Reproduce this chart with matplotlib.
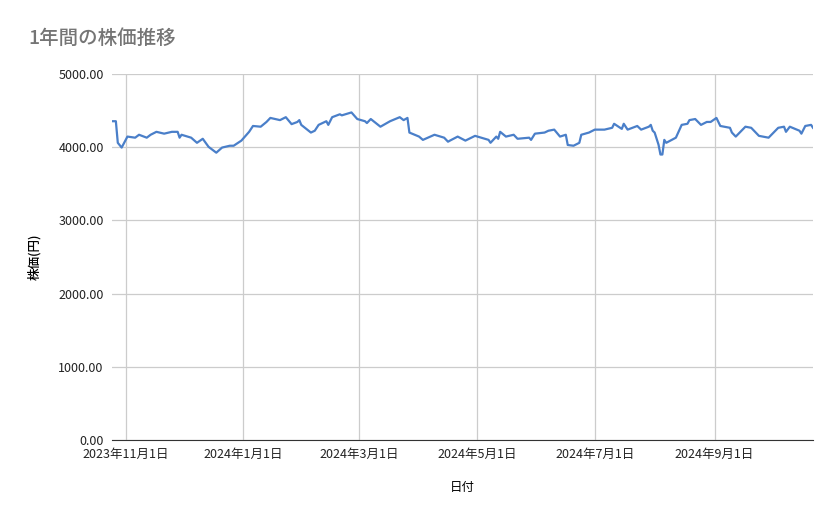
import matplotlib
matplotlib.use("Agg")
import matplotlib.pyplot as plt
import numpy as np
import datetime as dt
from matplotlib.ticker import FuncFormatter

plt.rcParams['font.family'] = ['Noto Sans CJK JP', 'DejaVu Sans']

base = dt.date(2023, 11, 1)
day_offsets = [-7,-5,-4,-2,1,5,7,11,13,16,20,24,27,28,29,34,37,40,43,47,50,54,56,60,64,66,70,73,75,80,83,86,89,90,91,96,98,100,104,105,107,111,112,117,120,124,125,127,132,137,142,144,146,147,152,154,160,165,167,168,172,176,181,188,189,192,193,194,197,201,203,209,210,212,217,219,222,225,228,229,232,235,236,240,243,248,252,253,257,258,260,265,267,271,272,273,274,276,277,278,279,280,285,288,291,292,295,298,301,303,306,308,313,314,316,321,324,328,333,338,341,342,344,349,350,352,355,356]
prices = [4355,4355,4060,3995,4145,4130,4170,4130,4170,4210,4185,4210,4210,4130,4170,4130,4060,4115,4005,3925,3995,4020,4020,4090,4210,4290,4280,4345,4400,4370,4410,4315,4345,4370,4305,4200,4225,4305,4355,4305,4410,4450,4435,4475,4385,4355,4330,4385,4280,4355,4410,4370,4400,4200,4145,4100,4170,4130,4075,4090,4145,4090,4155,4100,4060,4145,4115,4210,4145,4170,4115,4130,4100,4185,4200,4225,4240,4145,4170,4030,4020,4060,4170,4200,4240,4240,4265,4320,4250,4320,4240,4290,4240,4280,4305,4225,4200,4035,3900,3900,4100,4060,4130,4305,4320,4370,4385,4305,4345,4345,4400,4290,4265,4200,4145,4280,4265,4155,4130,4265,4280,4210,4280,4225,4185,4290,4305,4265]
tick_dates = ["2023-11-01","2024-01-01","2024-03-01","2024-05-01","2024-07-01","2024-09-01"]
tick_labels = ["2023年11月1日","2024年1月1日","2024年3月1日","2024年5月1日","2024年7月1日","2024年9月1日"]
title = "1年間の株価推移"

dates = [base + dt.timedelta(days=d) for d in day_offsets]
fig = plt.figure(figsize=(8.39, 5.19), dpi=100)
ax = fig.add_axes([112/839, 1-440/519, (813-112)/839, (440-74)/519])
ax.plot(dates, prices, color='#4a7fc9', lw=1.6)
ax.set_xlim(dates[0], dates[-1])
ax.set_ylim(0, 5000)
ax.set_yticks(np.arange(0, 5001, 1000))
ax.yaxis.set_major_formatter(FuncFormatter(lambda v, p: f"{v:.2f}"))
td = [dt.date.fromisoformat(s) for s in tick_dates]
ax.set_xticks(td)
ax.set_xticklabels(tick_labels)
ax.grid(True, color='#cccccc', lw=0.9)
ax.set_axisbelow(True)
for s in ['top', 'right', 'left']:
    ax.spines[s].set_visible(False)
ax.spines['bottom'].set_color('#333333')
ax.tick_params(length=0, labelsize=9, colors='#222222', pad=6)
ax.set_xlabel("日付", fontsize=9, labelpad=14)
ax.set_ylabel("株価(円)", fontsize=9, labelpad=12, fontweight='medium')
fig.text(28/839, 1-38/519, title, fontsize=14, color='#757575', va='center', ha='left', fontweight='medium')
fig.savefig("out.png", dpi=100)
